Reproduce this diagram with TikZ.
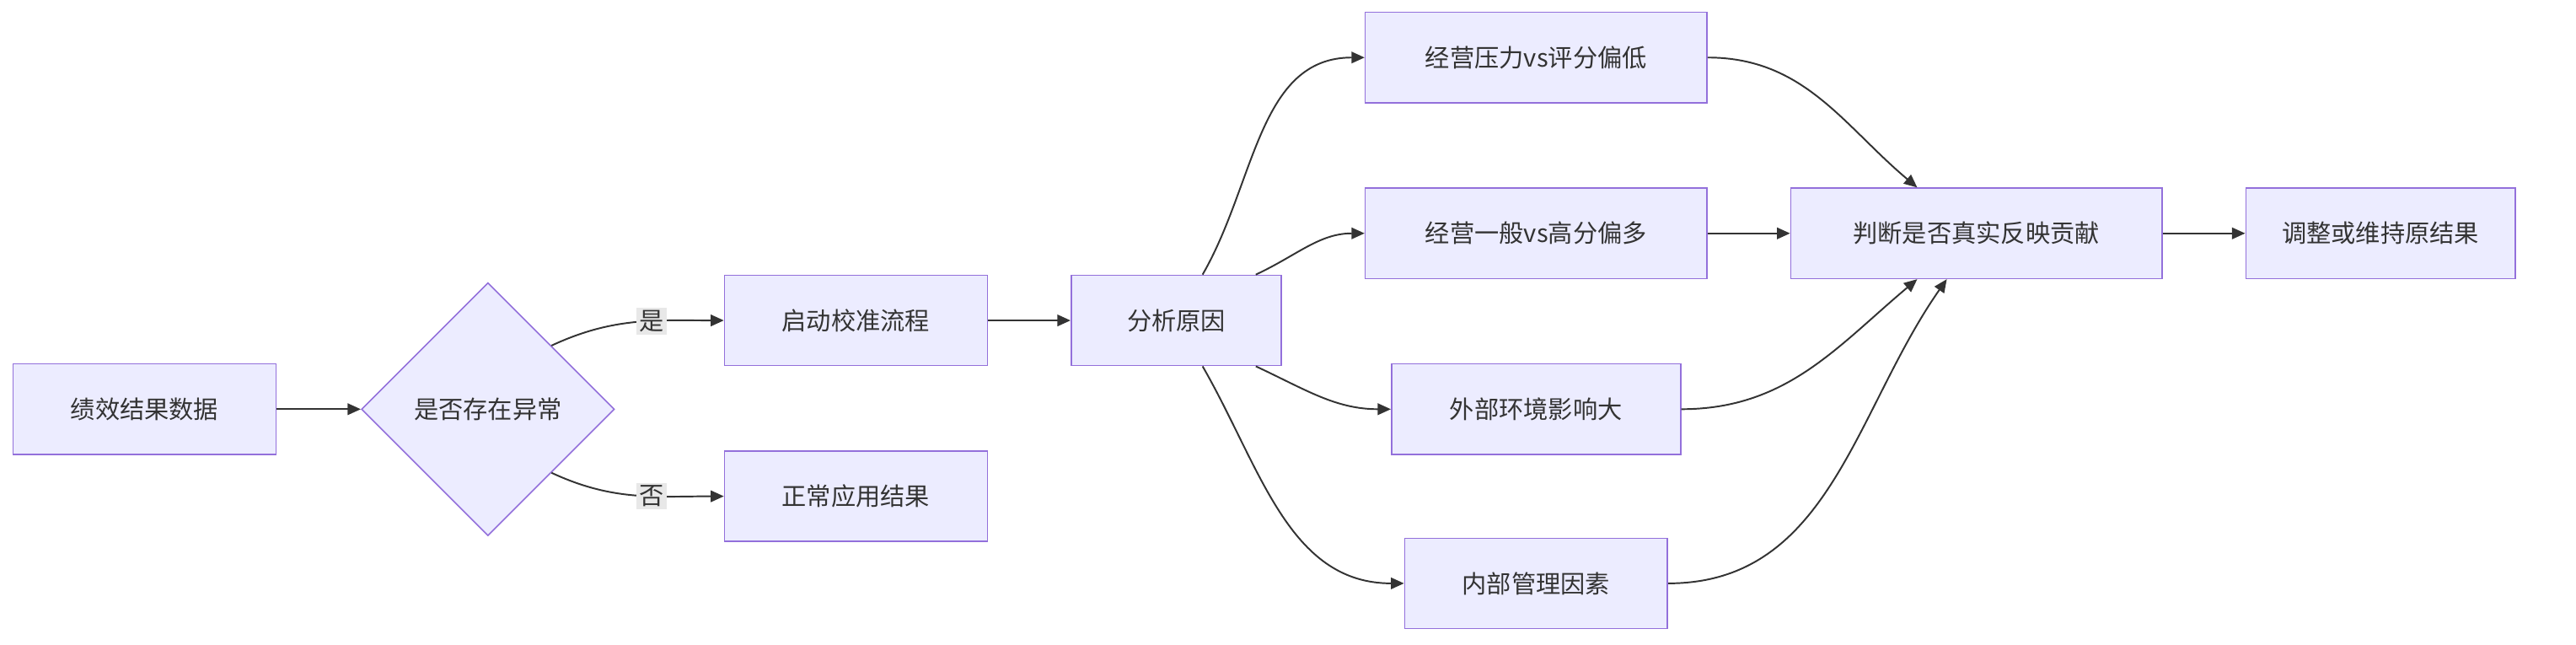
\documentclass[tikz,border=0pt]{standalone}
\usepackage{fontspec}
\setmainfont{Noto Sans CJK SC}
\usetikzlibrary{shapes.geometric,arrows.meta}
\definecolor{boxfill}{HTML}{ECECFF}
\definecolor{boxline}{HTML}{9370DB}
\definecolor{edge}{HTML}{333333}
\definecolor{lblbg}{HTML}{E8E8E8}
\begin{document}
\begin{tikzpicture}[x=1pt,y=-1pt,
  box/.style={draw=boxline,fill=boxfill,line width=0.8pt,minimum height=55pt,inner sep=0pt,font=\fontsize{15}{18}\selectfont,text=edge},
  dec/.style={draw=boxline,fill=boxfill,line width=0.8pt,diamond,minimum width=154pt,minimum height=154pt,inner sep=0pt,font=\fontsize{15}{18}\selectfont,text=edge},
  flow/.style={draw=edge,line width=1pt,-{Triangle[length=8pt,width=7pt]}},
  lbl/.style={fill=lblbg,inner sep=1.5pt,font=\fontsize{15}{18}\selectfont,text=edge}]
\useasboundingbox (0,0) rectangle (1568,392);
% nodes
\node[box,minimum width=160pt] (data) at (88,249) {绩效结果数据};
\node[dec] (abn) at (297,249) {是否存在异常};
\node[box,minimum width=160pt] (calib) at (521,195) {启动校准流程};
\node[box,minimum width=160pt] (normal) at (521,302) {正常应用结果};
\node[box,minimum width=128pt] (cause) at (716,195) {分析原因};
\node[box,minimum width=208pt] (press) at (935,35) {经营压力vs评分偏低};
\node[box,minimum width=208pt] (avg) at (935,142) {经营一般vs高分偏多};
\node[box,minimum width=176pt] (ext) at (935,249) {外部环境影响大};
\node[box,minimum width=160pt] (intl) at (935,355) {内部管理因素};
\node[box,minimum width=226pt] (judge) at (1203,142) {判断是否真实反映贡献};
\node[box,minimum width=164pt] (adj) at (1449,142) {调整或维持原结果};
% edges
\draw[flow] (data) -- (abn);
\draw[flow] (abn.north east) to[out=25,in=180] node[lbl,pos=0.6] {是} (calib.west);
\draw[flow] (abn.south east) to[out=-25,in=180] node[lbl,pos=0.6] {否} (normal.west);
\draw[flow] (calib) -- (cause);
\draw[flow] ([xshift=16pt]cause.north) to[out=60,in=180] (press.west);
\draw[flow] ([xshift=-16pt]cause.north east) to[out=25,in=180] (avg.west);
\draw[flow] ([xshift=-16pt]cause.south east) to[out=-25,in=180] (ext.west);
\draw[flow] ([xshift=16pt]cause.south) to[out=-60,in=180] (intl.west);
\draw[flow] (press.east) to[out=0,in=140] ([xshift=-36pt]judge.north);
\draw[flow] (avg) -- (judge);
\draw[flow] (ext.east) to[out=0,in=-140] ([xshift=-36pt]judge.south);
\draw[flow] (intl.east) to[out=0,in=-125] ([xshift=-18pt]judge.south);
\draw[flow] (judge) -- (adj);
\end{tikzpicture}
\end{document}
